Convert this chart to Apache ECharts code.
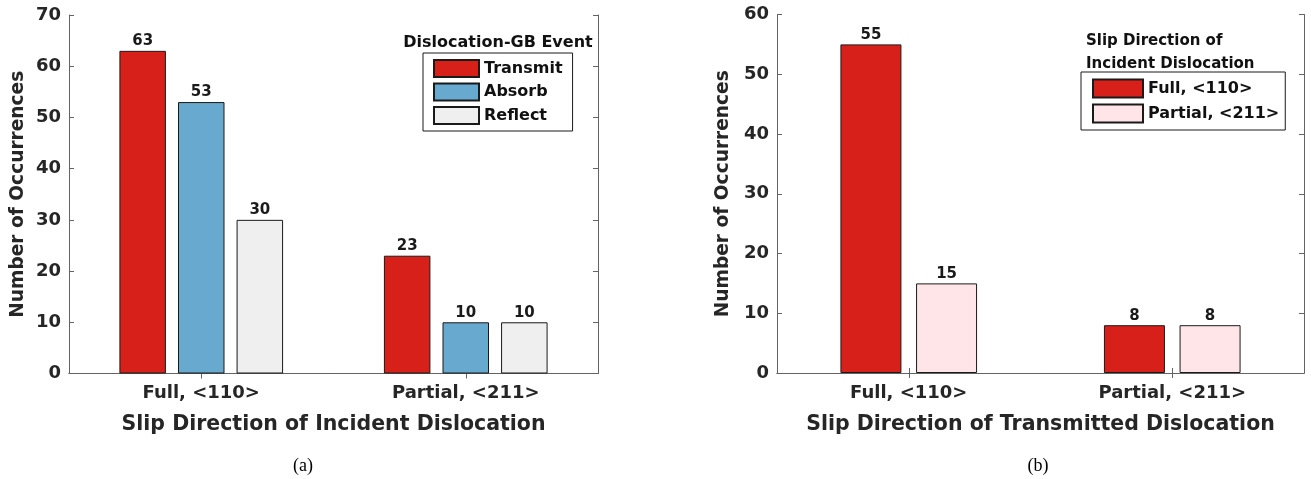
<!DOCTYPE html>
<html>
<head>
<meta charset="utf-8">
<title>Dislocation-GB events</title>
<script src="https://cdn.jsdelivr.net/npm/echarts@6/dist/echarts.min.js"></script>
<style>
  html, body { margin: 0; padding: 0; background: #ffffff; }
  #chart { width: 1311px; height: 479px; }
</style>
</head>
<body>
<div id="chart"></div>
<script>
// Categories shared by both panels
const categories = ['Full, <110>', 'Partial, <211>'];

// Panel (a): outcome of each dislocation-GB event, by incident slip direction
const transmitCounts = [63, 23];
const absorbCounts = [53, 10];
const reflectCounts = [30, 10];

// Panel (b): slip direction of the transmitted dislocation, by incident slip direction
const incidentFullCounts = [55, 8];
const incidentPartialCounts = [15, 8];

// Axis ranges
const yMaxA = 70;
const yMaxB = 60;
const yStep = 10;

const FONT = '"DejaVu Sans", "Liberation Sans", sans-serif';
const TXT = '#262626';
const AXIS = '#636363';
const EDGE = '#1a1a1a';

const RED = '#D7201A';
const BLUE = '#67A9CF';
const GREY = '#EFEFEF';
const PINK = '#FFE5E8';

const chart = echarts.init(document.getElementById('chart'), null, { renderer: 'canvas' });

function bottomAxis(gridIndex, name) {
  return {
    type: 'category', gridIndex, position: 'bottom', data: categories,
    axisLine: { show: true, lineStyle: { color: AXIS, width: 1 } },
    axisTick: { show: true, inside: true, alignWithLabel: true, length: 5, lineStyle: { color: AXIS } },
    axisLabel: { color: TXT, fontFamily: FONT, fontWeight: 'bold', fontSize: 18, margin: 11 },
    name, nameLocation: 'middle', nameGap: 41,
    nameTextStyle: { color: TXT, fontFamily: FONT, fontWeight: 'bold', fontSize: 20.5 }
  };
}
function topAxis(gridIndex) {
  return {
    type: 'category', gridIndex, position: 'top', data: categories,
    axisLine: { show: true, lineStyle: { color: AXIS, width: 1 } },
    axisTick: { show: true, inside: true, alignWithLabel: true, length: 5, lineStyle: { color: AXIS } },
    axisLabel: { show: false }
  };
}
function leftAxis(gridIndex, max, nameGap) {
  return {
    type: 'value', gridIndex, position: 'left', min: 0, max, interval: yStep,
    axisLine: { show: true, lineStyle: { color: AXIS, width: 1 } },
    axisTick: { show: true, inside: true, length: 5, lineStyle: { color: AXIS } },
    axisLabel: { color: TXT, fontFamily: FONT, fontWeight: 'bold', fontSize: 18, margin: 8 },
    splitLine: { show: false },
    name: 'Number of Occurrences', nameLocation: 'middle', nameRotate: 90, nameGap,
    nameTextStyle: { color: TXT, fontFamily: FONT, fontWeight: 'bold', fontSize: 18.6 }
  };
}
function rightAxis(gridIndex, max) {
  return {
    type: 'value', gridIndex, position: 'right', min: 0, max, interval: yStep,
    axisLine: { show: true, lineStyle: { color: AXIS, width: 1 } },
    axisTick: { show: true, inside: true, length: 5, lineStyle: { color: AXIS } },
    axisLabel: { show: false },
    splitLine: { show: false }
  };
}

const valueLabel = {
  show: true, position: 'top', distance: 2,
  color: EDGE, fontFamily: FONT, fontWeight: 'bold', fontSize: 15
};

function bars(name, data, color, xi, yi, width, gap) {
  return {
    name, type: 'bar', data, xAxisIndex: xi, yAxisIndex: yi,
    barWidth: width, barGap: gap,
    itemStyle: { color, borderColor: EDGE, borderWidth: 1 },
    label: valueLabel,
    emphasis: { disabled: true },
    animation: false
  };
}

const option = {
  animation: false,
  grid: [
    { left: 69, top: 15, width: 529, height: 358.5 },
    { left: 777, top: 14.5, width: 527, height: 358.5 }
  ],
  xAxis: [
    bottomAxis(0, 'Slip Direction of Incident Dislocation'),
    topAxis(0),
    bottomAxis(1, 'Slip Direction of Transmitted Dislocation'),
    topAxis(1)
  ],
  yAxis: [
    leftAxis(0, yMaxA, 41),
    rightAxis(0, yMaxA),
    leftAxis(1, yMaxB, 44),
    rightAxis(1, yMaxB)
  ],
  legend: [
    {
      data: ['Transmit', 'Absorb', 'Reflect'],
      orient: 'vertical', left: 423, top: 53,
      itemWidth: 45, itemHeight: 17, itemGap: 4.5,
      padding: [6, 10, 6, 10],
      borderColor: EDGE, borderWidth: 1, backgroundColor: '#ffffff',
      icon: 'rect', selectedMode: false,
      textStyle: { color: '#111', fontFamily: FONT, fontWeight: 'bold', fontSize: 16 }
    },
    {
      data: ['Full, <110>', 'Partial, <211>'],
      orient: 'vertical', left: 1081, top: 72,
      itemWidth: 50, itemHeight: 18, itemGap: 5,
      padding: [6.5, 6, 6.5, 11],
      borderColor: EDGE, borderWidth: 1, backgroundColor: '#ffffff',
      icon: 'rect', selectedMode: false,
      textStyle: { color: '#111', fontFamily: FONT, fontWeight: 'bold', fontSize: 16 }
    }
  ],
  series: [
    bars('Transmit', transmitCounts, RED, 0, 0, 46.5, '26%'),
    bars('Absorb', absorbCounts, BLUE, 0, 0, 46.5, '26%'),
    bars('Reflect', reflectCounts, GREY, 0, 0, 46.5, '26%'),
    bars('Full, <110>', incidentFullCounts, RED, 2, 2, 61, '24%'),
    bars('Partial, <211>', incidentPartialCounts, PINK, 2, 2, 61, '24%')
  ],
  graphic: [
    {
      type: 'text', x: 498, y: 43,
      style: { text: 'Dislocation-GB Event', align: 'center', verticalAlign: 'middle',
               fill: '#111', font: 'bold 16px ' + FONT }
    },
    {
      type: 'text', x: 1086, y: 41,
      style: { text: 'Slip Direction of', align: 'left', verticalAlign: 'middle',
               fill: '#111', font: 'bold 15px ' + FONT }
    },
    {
      type: 'text', x: 1086, y: 64,
      style: { text: 'Incident Dislocation', align: 'left', verticalAlign: 'middle',
               fill: '#111', font: 'bold 15px ' + FONT }
    },
    {
      type: 'text', x: 303, y: 466,
      style: { text: '(a)', align: 'center', verticalAlign: 'middle',
               fill: '#000', font: '18px "Liberation Serif", "Times New Roman", serif' }
    },
    {
      type: 'text', x: 1038, y: 466,
      style: { text: '(b)', align: 'center', verticalAlign: 'middle',
               fill: '#000', font: '18px "Liberation Serif", "Times New Roman", serif' }
    }
  ]
};

chart.setOption(option);
</script>
</body>
</html>
